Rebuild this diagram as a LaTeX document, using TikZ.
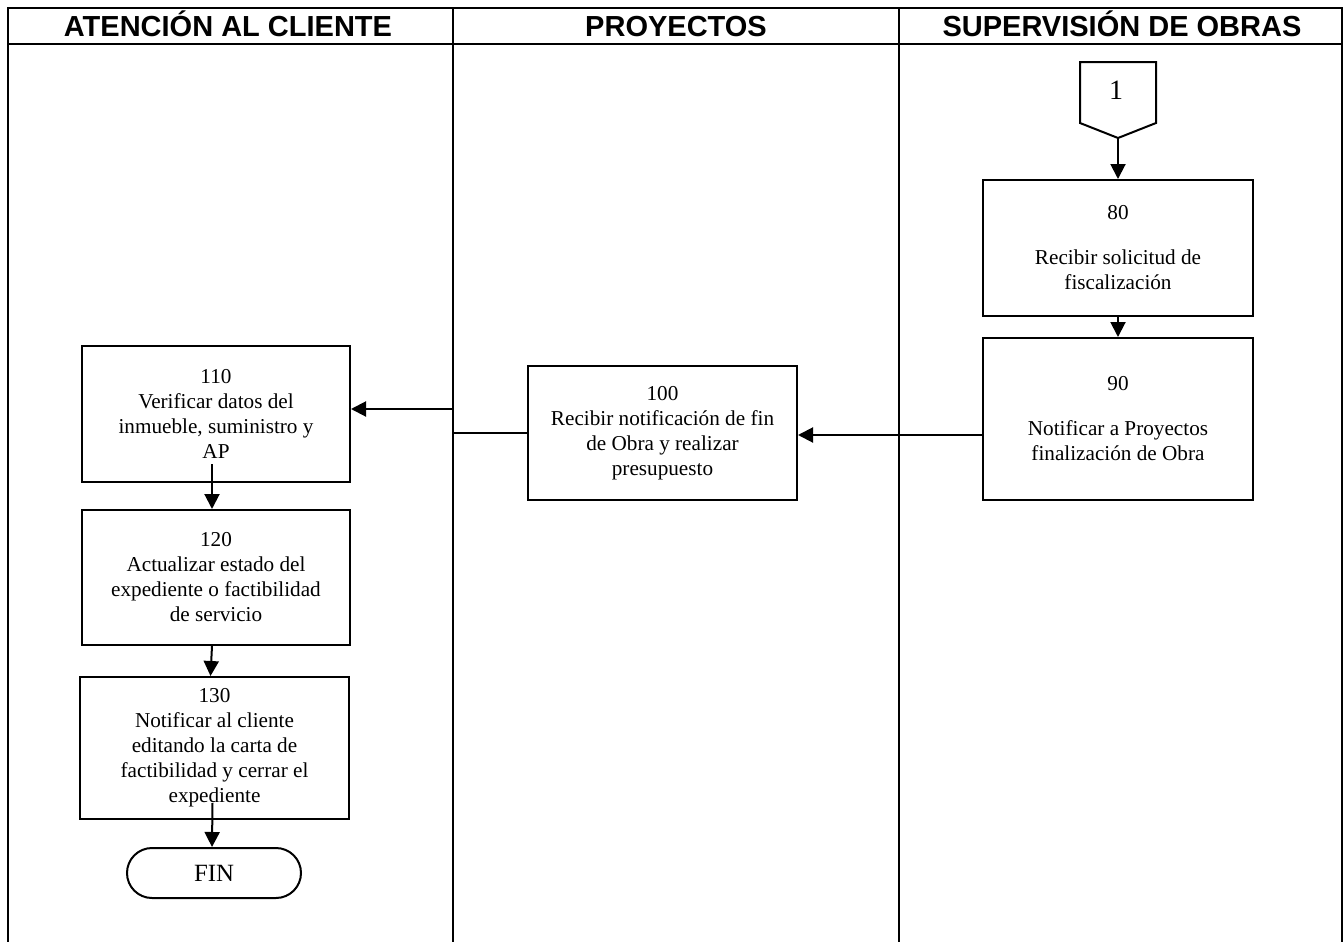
\documentclass[tikz,border=0pt]{standalone}
\usepackage{fontspec}
\setmainfont{Liberation Serif}
\setsansfont{Liberation Sans}
\usetikzlibrary{arrows.meta,shapes.misc}
\begin{document}
\begin{tikzpicture}[x=0.5pt,y=-0.5pt,
  lane/.style={line width=1.2pt},
  hdr/.style={anchor=base, font=\sffamily\bfseries\fontsize{14.5}{16}\selectfont},
  box/.style={draw, line width=1pt, align=center, inner sep=0pt,
    font=\fontsize{10.6}{12.5}\selectfont},
  term/.style={draw, line width=1pt, rounded rectangle, inner sep=0pt,
    font=\fontsize{12.4}{14}\selectfont},
  arr/.style={-{Triangle[length=7.5pt,width=7.5pt]}, line width=1pt}]
\useasboundingbox (0,0) rectangle (1344,942);
% lanes
\draw[lane] (8,942) -- (8,8) -- (1342,8) -- (1342,942);
\draw[lane] (8,44) -- (1342,44);
\coordinate (L1) at (453,8);
\coordinate (L2) at (899,8);
\draw[lane] (L1) -- (453,942);
\draw[lane] (L2) -- (899,942);
\node[hdr] (h1) at (228,36) {ATENCIÓN AL CLIENTE};
\node[hdr] (h2) at (676,36) {PROYECTOS};
\node[hdr] (h3) at (1122,36) {SUPERVISIÓN DE OBRAS};
% off-page connector
\draw[line width=1pt] (1080,62) -- (1156,62) -- (1156,123) -- (1118,138) -- (1080,123) -- cycle;
\node[font=\fontsize{14}{16}\selectfont] (c1) at (1116,90) {1};
\coordinate (c1tip) at (1118,138);
% boxes
\node[box, minimum width=135pt, minimum height=68pt] (b80) at (1118,248)
  {80\\[10pt]Recibir solicitud de\\fiscalización};
\node[box, minimum width=135pt, minimum height=81pt] (b90) at (1118,419)
  {90\\[10pt]Notificar a Proyectos\\finalización de Obra};
\node[box, minimum width=134.5pt, minimum height=67pt] (b100) at (662.5,433)
  {100\\Recibir notificación de fin\\de Obra y realizar\\presupuesto};
\node[box, minimum width=134pt, minimum height=68pt] (b110) at (216,414)
  {110\\Verificar datos del\\inmueble, suministro y\\AP};
\node[box, minimum width=134pt, minimum height=67.5pt] (b120) at (216,577.5)
  {120\\Actualizar estado del\\expediente o factibilidad\\de servicio};
\node[box, minimum width=134.5pt, minimum height=71pt] (b130) at (214.5,748)
  {130\\Notificar al cliente\\editando la carta de\\factibilidad y cerrar el\\expediente};
\node[term, minimum width=87pt, minimum height=25pt] (fin) at (214,873) {FIN};
% connectors
\draw[arr] (c1tip) -- (b80.north);
\draw[arr] (b80.south) -- (b90.north);
\draw[arr] ([yshift=-8pt]b90.west) -- ([yshift=-8pt]b90.west -| b100.east);
\draw[arr] (b100.west) -- (b100.west -| L1) |- ([yshift=2.5pt]b110.east);
\draw[arr] ([xshift=-2pt,yshift=9.5pt]b110.south) -- ([xshift=-2pt]b120.north);
\draw[arr] ([xshift=-2pt]b120.south) -- ([xshift=-2pt]b130.north);
\draw[arr] ([xshift=-1pt,yshift=8.5pt]b130.south) -- ([xshift=-1pt]fin.north);
\end{tikzpicture}
\end{document}
